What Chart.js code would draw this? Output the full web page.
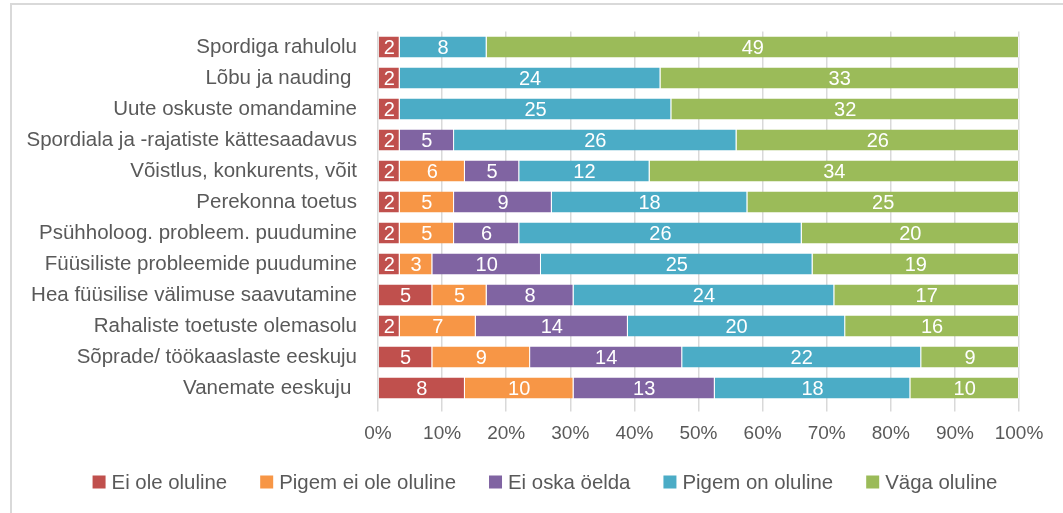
<!DOCTYPE html>
<html><head><meta charset="utf-8">
<script src="https://cdn.jsdelivr.net/npm/chart.js@4.4.1/dist/chart.umd.min.js"></script>
<style>html,body{margin:0;padding:0;background:#fff;}canvas{display:block;}</style>
</head><body>
<canvas id="c" width="1063" height="513"></canvas>
<script>
const categories = ["Spordiga rahulolu","Lõbu ja nauding ","Uute oskuste omandamine","Spordiala ja -rajatiste kättesaadavus","Võistlus, konkurents, võit","Perekonna toetus","Psühholoog. probleem. puudumine","Füüsiliste probleemide puudumine","Hea füüsilise välimuse saavutamine","Rahaliste toetuste olemasolu","Sõprade/ töökaaslaste eeskuju","Vanemate eeskuju "];
const seriesNames = ["Ei ole oluline","Pigem ei ole oluline","Ei oska öelda","Pigem on oluline","Väga oluline"];
const eiOle   = [2,2,2,2,2,2,2,2,5,2,5,8];
const pigemEi = [0,0,0,0,6,5,5,3,5,7,9,10];
const eiOska  = [0,0,0,5,5,9,6,10,8,14,14,13];
const pigemOn = [8,24,25,26,12,18,26,25,24,20,22,18];
const vaga    = [49,33,32,26,34,25,20,19,17,16,9,10];
const xTicks = ["0%","10%","20%","30%","40%","50%","60%","70%","80%","90%","100%"];

const colors = ["#C0504D","#F79646","#8064A2","#4BACC6","#9BBB59"];
const counts = [eiOle,pigemEi,eiOska,pigemOn,vaga];
const totals = categories.map((_,i)=>counts.reduce((s,a)=>s+a[i],0));
const FONT = '"Liberation Sans", Arial, sans-serif';
const TXT = '#595959';

const datasets = counts.map((arr,k)=>({
  label: seriesNames[k],
  data: arr.map((v,i)=>v/totals[i]*100),
  raw: arr,
  backgroundColor: colors[k],
  borderColor: 'rgba(255,255,255,0.7)',
  borderWidth: {left:0,right:1,top:0,bottom:0},
  borderSkipped: false,
  barPercentage: 0.68,
  categoryPercentage: 1.0
}));

const labelPlugin = {
  id:'labels',
  afterDatasetsDraw(chart){
    const ctx = chart.ctx;
    ctx.save();
    ctx.font = '20px ' + FONT;
    ctx.fillStyle = '#fff';
    ctx.textAlign = 'center';
    ctx.textBaseline = 'middle';
    chart.data.datasets.forEach((ds,k)=>{
      const meta = chart.getDatasetMeta(k);
      meta.data.forEach((el,i)=>{
        const v = ds.raw[i];
        if(!v) return;
        const cx = (el.x + el.base)/2;
        ctx.fillText(String(v), cx, el.y+1);
      });
    });
    ctx.restore();
  }
};

const framePlugin = {
  id:'frame',
  afterDraw(chart){
    const ctx = chart.ctx;
    ctx.save();
    ctx.strokeStyle = '#d9d9d9';
    ctx.lineWidth = 2;
    ctx.beginPath();
    ctx.moveTo(11, 513); ctx.lineTo(11, 4); ctx.lineTo(1063, 4);
    ctx.stroke();
    // legend
    ctx.font = '20.4px ' + FONT;
    ctx.textBaseline = 'middle';
    ctx.textAlign = 'left';
    const box = 13, gap = 6, itemGap = 33;
    const widths = chart.data.datasets.map(d=>box+gap+ctx.measureText(d.label).width);
    const total = widths.reduce((a,b)=>a+b,0) + itemGap*(widths.length-1);
    let x = 545 - total/2;
    const y = 482;
    chart.data.datasets.forEach((d,k)=>{
      ctx.fillStyle = d.backgroundColor;
      ctx.fillRect(x, y-6.5, box, box);
      ctx.fillStyle = TXT;
      ctx.fillText(d.label, x+box+gap, y+1);
      x += widths[k] + itemGap;
    });
    ctx.restore();
  }
};

new Chart(document.getElementById('c'), {
  type:'bar',
  data:{labels:categories, datasets},
  options:{
    indexAxis:'y',
    responsive:false,
    animation:false,
    layout:{padding:{left:12,top:31.5,right:44,bottom:0}},
    plugins:{legend:{display:false},tooltip:{enabled:false}},
    scales:{
      x:{
        stacked:true, min:0, max:100,
        ticks:{stepSize:10, color:TXT, font:{family:FONT,size:19}, padding:11,
          callback:(v,i)=>xTicks[i]},
        grid:{color:'#d9d9d9', lineWidth:1.5, tickLength:8, drawTicks:true},
        border:{display:false},
        afterFit(s){ s.height = 109.5; }
      },
      y:{
        stacked:true,
        ticks:{color:TXT, font:{family:FONT,size:20.5}, padding:13, autoSkip:false},
        grid:{display:false},
        border:{display:false},
        afterFit(s){ s.width = 366; }
      }
    }
  },
  plugins:[labelPlugin, framePlugin]
});
</script>
</body></html>
